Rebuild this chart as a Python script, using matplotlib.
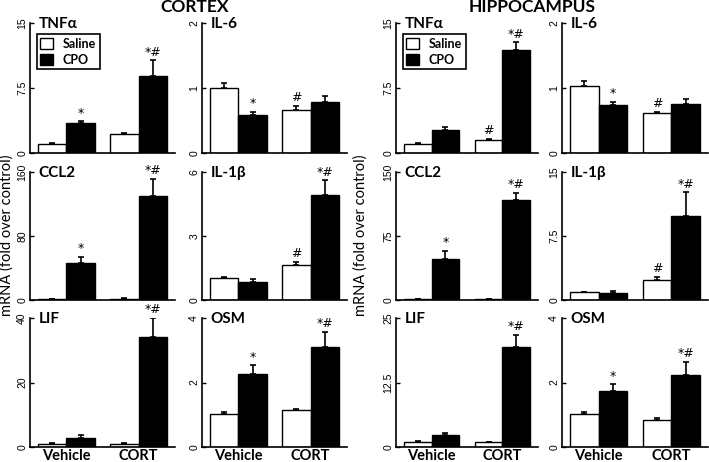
import matplotlib
matplotlib.use("Agg")
import matplotlib.pyplot as plt
from matplotlib.patches import Patch

# gene panels, read row by row (two per row inside each region)
genes = ["TNFα", "IL-6", "CCL2", "IL-1β", "LIF", "OSM"]
groups = ["Vehicle", "CORT"]

# cortex: [vehicle, CORT] per gene
ctx_ymax = [15, 2, 160, 6, 40, 4]
ctx_yticks = [["0", "7.5", "15"], ["0", "1", "2"], ["0", "80", "160"],
              ["0", "3", "6"], ["0", "20", "40"], ["0", "2", "4"]]
ctx_saline = [[1.05, 2.2], [1.0, 0.655], [1.0, 1.5], [1.01, 1.64], [1.04, 0.85], [1.02, 1.15]]
ctx_saline_err = [[0.1, 0.08], [0.07, 0.07], [0.4, 0.4], [0.08, 0.15], [0.15, 0.25], [0.06, 0.03]]
ctx_cpo = [[3.45, 8.9], [0.59, 0.79], [45.8, 130.0], [0.83, 4.94], [2.9, 34.0], [2.26, 3.10]]
ctx_cpo_err = [[0.2, 1.8], [0.04, 0.08], [8.0, 21.7], [0.14, 0.67], [0.8, 6.0], [0.28, 0.47]]
ctx_mark_sal = [["", ""], ["", "#"], ["", ""], ["", "#"], ["", ""], ["", ""]]
ctx_mark_cpo = [["*", "*#"], ["*", ""], ["*", "*#"], ["", "*#"], ["", "*#"], ["*", "*#"]]

# hippocampus
hip_ymax = [15, 2, 150, 15, 25, 4]
hip_yticks = [["0", "7.5", "15"], ["0", "1", "2"], ["0", "75", "150"],
              ["0", "7.5", "15"], ["0", "12.5", "25"], ["0", "2", "4"]]
hip_saline = [[1.07, 1.54], [1.025, 0.615], [1.0, 1.0], [0.9, 2.3], [1.03, 0.9], [1.02, 0.84]]
hip_saline_err = [[0.1, 0.12], [0.09, 0.02], [0.4, 0.4], [0.06, 0.45], [0.1, 0.1], [0.08, 0.05]]
hip_cpo = [[2.7, 11.85], [0.74, 0.76], [47.6, 117.7], [0.85, 9.9], [2.27, 19.4], [1.74, 2.24]]
hip_cpo_err = [[0.3, 0.95], [0.05, 0.07], [10.0, 8.0], [0.15, 2.7], [0.5, 2.4], [0.2, 0.4]]
hip_mark_sal = [["", "#"], ["", "#"], ["", ""], ["", "#"], ["", ""], ["", ""]]
hip_mark_cpo = [["", "*#"], ["*", ""], ["*", "*#"], ["", "*#"], ["", "*#"], ["*", "*#"]]

FONT = ["Lato", "DejaVu Sans"]
W, H = 709, 462
col_left = [30, 202, 396, 562]
col_width = [145, 145, 142, 146]
row_top = [23, 172, 318]
row_bot = [153, 300, 447]

x_sal = [0.0, 2.55]
x_cpo = [1.0, 3.55]
bar_w = 1.0

fig = plt.figure(figsize=(W / 100, H / 100), dpi=100)


def draw_panel(ax, gene, ymax, ticklabels, sal, sal_err, cpo, cpo_err,
               mark_sal, mark_cpo, bottom_row, legend):
    ax.bar(x_sal, sal, width=bar_w, color="white", edgecolor="black", lw=1.0, zorder=2)
    ax.bar(x_cpo, cpo, width=bar_w, color="black", edgecolor="black", lw=1.0, zorder=2)
    for xs, ys, es in ((x_sal, sal, sal_err), (x_cpo, cpo, cpo_err)):
        ax.errorbar(xs, ys, yerr=[[0, 0], es], fmt="none", ecolor="black",
                    elinewidth=1.2, capsize=2.5, capthick=1.2, zorder=3)
    for xs, ys, es, ms in ((x_sal, sal, sal_err, mark_sal), (x_cpo, cpo, cpo_err, mark_cpo)):
        for x, y, e, m in zip(xs, ys, es, ms):
            if m:
                ax.text(x, y + e + ymax * 0.012, m, ha="center", va="bottom",
                        fontsize=9, family=["DejaVu Sans"])
    ax.set_xlim(-0.78, 4.33)
    ax.set_ylim(0, ymax)
    ax.set_yticks([0, ymax / 2, ymax])
    ax.set_yticklabels(ticklabels, rotation=90, va="center",
                       family=["Liberation Sans"], fontsize=7.5)
    ax.tick_params(axis="y", direction="in", length=3, width=1, pad=2)
    ax.set_xticks([(x_sal[0] + x_cpo[0]) / 2, (x_sal[1] + x_cpo[1]) / 2])
    if bottom_row:
        ax.set_xticklabels(groups, fontsize=10.5, fontweight="bold", family=FONT)
    else:
        ax.set_xticklabels(["", ""])
    ax.tick_params(axis="x", length=0, pad=1.5)
    for s in ("top", "right"):
        ax.spines[s].set_visible(False)
    for s in ("left", "bottom"):
        ax.spines[s].set_linewidth(1.2)
    ax.text(0.06, 1.05, gene, transform=ax.transAxes, ha="left", va="top",
            fontsize=11, fontweight="bold", family=FONT)
    if legend:
        handles = [Patch(facecolor="white", edgecolor="black", lw=1),
                   Patch(facecolor="black", edgecolor="black", lw=1)]
        leg = ax.legend(handles, ["Saline", "CPO"], loc="upper left",
                        bbox_to_anchor=(0.046, 0.915), borderaxespad=0,
                        fancybox=False, edgecolor="black", framealpha=1,
                        handlelength=1.0, handleheight=1.0, handletextpad=0.8,
                        borderpad=0.3, labelspacing=0.3,
                        prop={"family": FONT, "weight": "bold", "size": 9})
        leg.get_frame().set_linewidth(1.2)


regions = [
    (0, ctx_ymax, ctx_yticks, ctx_saline, ctx_saline_err, ctx_cpo, ctx_cpo_err,
     ctx_mark_sal, ctx_mark_cpo),
    (2, hip_ymax, hip_yticks, hip_saline, hip_saline_err, hip_cpo, hip_cpo_err,
     hip_mark_sal, hip_mark_cpo),
]
for c0, ymax, yt, sal, sal_e, cpo, cpo_e, m_sal, m_cpo in regions:
    for i, gene in enumerate(genes):
        r, c = i // 2, c0 + i % 2
        rect = [col_left[c] / W, 1 - row_bot[r] / H,
                col_width[c] / W, (row_bot[r] - row_top[r]) / H]
        ax = fig.add_axes(rect)
        draw_panel(ax, gene, ymax[i], yt[i], sal[i], sal_e[i], cpo[i], cpo_e[i],
                   m_sal[i], m_cpo[i], bottom_row=(r == 2), legend=(i == 0))

fig.text(195 / W, 1 - 7.5 / H, "CORTEX", ha="center", va="center",
         fontsize=12.5, fontweight="bold", family=FONT)
fig.text(532 / W, 1 - 7.5 / H, "HIPPOCAMPUS", ha="center", va="center",
         fontsize=12.5, fontweight="bold", family=FONT)
for xpix in (7, 361):
    fig.text(xpix / W, 1 - 235 / H, "mRNA (fold over control)", rotation=90,
             ha="center", va="center", fontsize=10.5, family=FONT)

fig.savefig("out.png", dpi=100)
